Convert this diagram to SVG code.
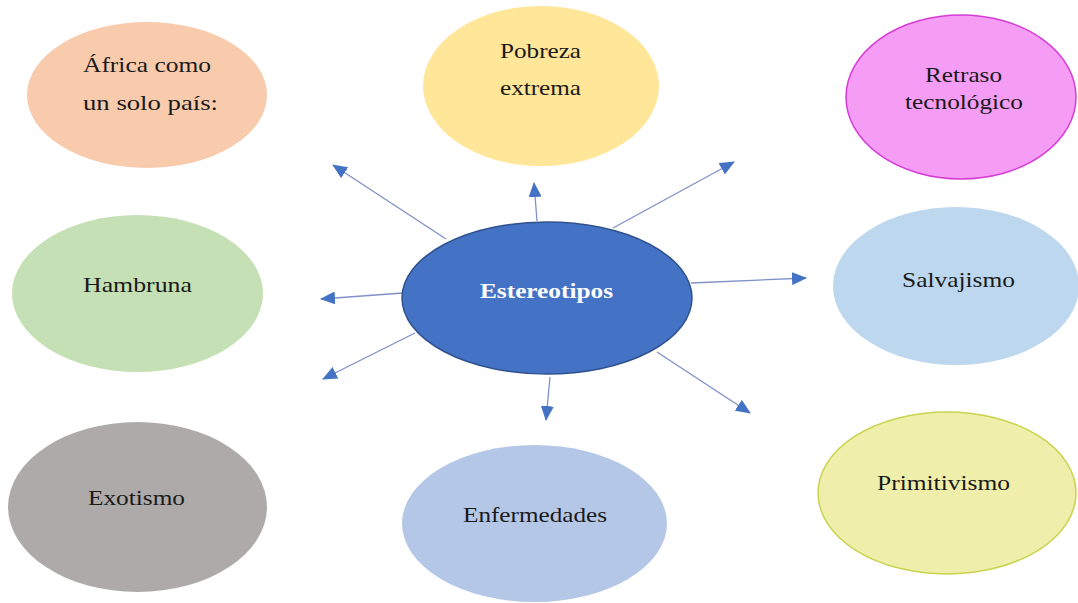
<svg xmlns="http://www.w3.org/2000/svg" width="1078" height="603" viewBox="0 0 1078 603">
  <style>
    .lbl { font-family: "Liberation Serif", "Times New Roman", serif; font-size: 21px; fill: #1a1a1a; }
    .hub { font-family: "Liberation Serif", "Times New Roman", serif; font-size: 22px; font-weight: bold; fill: #ffffff; }
    .edge { stroke: #7f90c8; stroke-width: 1.3; fill: none; marker-end: url(#arrow); }
  </style>
  <defs>
    <marker id="arrow" markerUnits="userSpaceOnUse" markerWidth="15" markerHeight="13" refX="14" refY="6.5" orient="auto">
      <path d="M0,0 L15,6.5 L0,13 Z" fill="#4472c4"/>
    </marker>
  </defs>
  <rect width="1078" height="603" fill="#ffffff"/>

  <g id="connectors">
    <line class="edge" x1="446" y1="239" x2="333" y2="165"/>
    <line class="edge" x1="537" y1="221" x2="534" y2="183"/>
    <line class="edge" x1="613" y1="228" x2="734" y2="162"/>
    <line class="edge" x1="691" y1="283" x2="806" y2="278"/>
    <line class="edge" x1="403" y1="293" x2="321" y2="299"/>
    <line class="edge" x1="415" y1="333" x2="323" y2="379"/>
    <line class="edge" x1="550" y1="377" x2="546" y2="420"/>
    <line class="edge" x1="657" y1="352" x2="750" y2="413"/>
  </g>

  <g id="node-africa">
    <ellipse cx="147" cy="95" rx="120" ry="73" fill="#f8cbad"/>
    <text class="lbl" x="83" y="72" textLength="128" lengthAdjust="spacingAndGlyphs">África como</text>
    <text class="lbl" x="83" y="110" textLength="135" lengthAdjust="spacingAndGlyphs">un solo país:</text>
  </g>

  <g id="node-pobreza">
    <ellipse cx="541" cy="86" rx="118" ry="80" fill="#ffe699"/>
    <text class="lbl" x="500" y="58" textLength="81" lengthAdjust="spacingAndGlyphs">Pobreza</text>
    <text class="lbl" x="500" y="95" textLength="81" lengthAdjust="spacingAndGlyphs">extrema</text>
  </g>

  <g id="node-retraso">
    <ellipse cx="961" cy="97" rx="115" ry="82" fill="#f59cf5" stroke="#d63bd6" stroke-width="1.5"/>
    <text class="lbl" x="925" y="82" textLength="77" lengthAdjust="spacingAndGlyphs">Retraso</text>
    <text class="lbl" x="905" y="109" textLength="118" lengthAdjust="spacingAndGlyphs">tecnológico</text>
  </g>

  <g id="node-hambruna">
    <ellipse cx="137.5" cy="293.5" rx="125.5" ry="78.5" fill="#c5e0b4"/>
    <text class="lbl" x="83" y="292" textLength="109" lengthAdjust="spacingAndGlyphs">Hambruna</text>
  </g>

  <g id="node-estereotipos">
    <ellipse cx="547" cy="298" rx="145" ry="76" fill="#4472c4" stroke="#2f528f" stroke-width="1.5"/>
    <text class="hub" x="480" y="298" textLength="133" lengthAdjust="spacingAndGlyphs">Estereotipos</text>
  </g>

  <g id="node-salvajismo">
    <ellipse cx="956" cy="286" rx="123" ry="79" fill="#bdd7ee"/>
    <text class="lbl" x="902" y="287" textLength="113" lengthAdjust="spacingAndGlyphs">Salvajismo</text>
  </g>

  <g id="node-exotismo">
    <ellipse cx="137.5" cy="507" rx="129.5" ry="85" fill="#aeaaaa"/>
    <text class="lbl" x="88" y="505" textLength="97" lengthAdjust="spacingAndGlyphs">Exotismo</text>
  </g>

  <g id="node-enfermedades">
    <ellipse cx="534.5" cy="523.5" rx="132.5" ry="78.5" fill="#b4c7e7"/>
    <text class="lbl" x="463" y="522" textLength="144" lengthAdjust="spacingAndGlyphs">Enfermedades</text>
  </g>

  <g id="node-primitivismo">
    <ellipse cx="947" cy="493" rx="129" ry="81" fill="#efeeaa" stroke="#c8d34e" stroke-width="1.5"/>
    <text class="lbl" x="877" y="490" textLength="133" lengthAdjust="spacingAndGlyphs">Primitivismo</text>
  </g>
</svg>
